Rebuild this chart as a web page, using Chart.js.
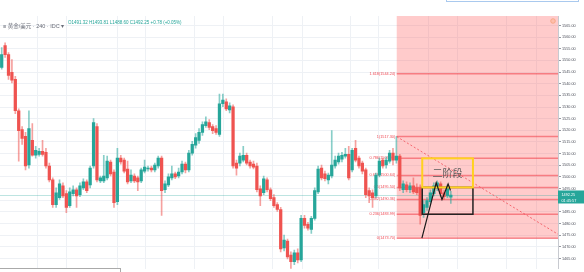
<!DOCTYPE html>
<html><head><meta charset="utf-8">
<script src="https://cdn.jsdelivr.net/npm/chart.js@4.4.1/dist/chart.umd.min.js"></script>
<style>
html,body{margin:0;padding:0;background:#fff;}
#wrap{position:relative;width:584px;height:272px;overflow:hidden;background:#fff;}
#c{position:absolute;left:0;top:0;}
#hdr{position:absolute;left:3px;top:19px;height:8px;line-height:8px;white-space:nowrap;font-family:"Liberation Sans","Noto Sans CJK SC",sans-serif;}
#sym{font-size:5.5px;color:#6a6d78;}
#ohlc{position:absolute;left:65px;top:0;font-size:4.5px;color:#26a69a;}
#tb{position:absolute;left:446px;top:-12px;width:131px;height:12px;border:1px solid #a9c9ee;}
#bx{position:absolute;left:0;top:268px;width:120px;height:20px;border:1px solid #aaa;border-left:none;}
</style></head><body>
<div id="wrap">
<canvas id="c" width="584" height="272"></canvas>
<div id="hdr"><span id="sym">≡ 黄金/美元 · 240 · IDC ▾</span><span id="ohlc">O1491.32 H1493.81 L1488.60 C1492.25 +0.78 (+0.05%)</span></div>
<div id="tb"></div>
<div id="bx"></div>
</div>
<script>
// ---- data ----
const opens = [
1547.0,1556.4,1552.5,1544.9,1541.9,1528.4,1520.3,1517.4,1505.1,1515.7,
1509.3,1509.7,1511.0,1510.6,1504.7,1498.7,1488.1,1491.1,1496.2,1492.8,
1487.7,1492.8,1494.5,1492.4,1495.3,1497.9,1496.6,1504.7,1521.6,1498.3,
1498.3,1499.6,1506.4,1502.1,1489.4,1508.1,1507.2,1503.4,1498.3,1500.4,
1499.6,1498.3,1502.5,1503.4,1503.8,1503.0,1504.7,1508.1,1494.5,1496.6,
1499.6,1501.3,1500.4,1502.1,1505.5,1503.0,1510.2,1513.6,1515.7,1519.1,
1522.0,1523.3,1521.6,1520.8,1518.2,1531.4,1532.2,1528.8,1530.1,1505.9,
1505.9,1507.2,1509.3,1506.4,1505.5,1504.7,1494.9,1493.2,1498.7,1494.5,
1491.1,1488.1,1486.0,1469.5,1472.5,1466.5,1463.6,1467.4,1464.4,1482.2,
1479.7,1477.5,1482.2,1493.6,1503.8,1501.3,1498.7,1500.4,1504.7,1506.4,
1507.6,1508.9,1509.7,1503.0,1512.3,1508.1,1505.9,1503.0,1494.1,1493.2,
1491.9,1500.8,1507.2,1505.1,1506.8,1510.2,1507.2,1508.9,1494.5,1496.6,
1494.5,1496.2,1495.3,1495.3,1484.7,1486.9,1489.4,1492.8,1495.3,1497.0,
1493.2,1491.9,1491.32];
const highs = [
1555.5,1557.6,1553.4,1550.4,1543.2,1529.2,1521.6,1519.1,1528.4,1522.9,
1513.1,1512.3,1515.7,1512.3,1505.9,1499.6,1495.3,1498.7,1497.5,1494.1,
1495.3,1496.2,1495.3,1497.5,1499.2,1498.7,1504.7,1525.0,1522.9,1500.4,
1509.3,1508.9,1507.2,1503.0,1512.3,1509.3,1508.1,1506.8,1503.0,1501.3,
1500.4,1503.8,1507.2,1504.7,1504.7,1505.9,1508.9,1508.9,1498.3,1501.3,
1504.7,1502.1,1503.8,1506.8,1506.4,1511.4,1515.3,1518.6,1520.8,1523.7,
1525.8,1524.6,1522.5,1522.0,1535.6,1535.6,1533.5,1531.8,1530.9,1507.2,
1510.2,1513.1,1510.2,1507.2,1506.8,1505.9,1496.2,1500.4,1499.6,1495.3,
1492.4,1489.0,1486.9,1475.0,1473.3,1467.8,1468.6,1469.1,1483.5,1483.5,
1480.5,1483.1,1495.3,1504.7,1505.1,1502.5,1501.7,1519.9,1508.9,1510.2,
1510.6,1512.3,1513.1,1512.3,1515.7,1508.9,1506.8,1503.8,1495.3,1494.5,
1501.7,1508.1,1508.1,1508.5,1511.4,1512.3,1517.3,1509.7,1498.3,1497.9,
1497.5,1499.6,1497.0,1496.6,1489.8,1491.1,1494.5,1497.5,1498.3,1497.9,
1494.5,1496.6,1493.81];
const lows = [
1546.2,1551.3,1541.9,1540.3,1527.1,1506.8,1514.0,1503.0,1503.8,1508.9,
1508.1,1508.9,1508.9,1503.8,1497.9,1486.9,1486.9,1490.3,1491.1,1484.7,
1486.9,1491.9,1486.9,1491.5,1494.5,1493.2,1495.3,1503.8,1497.9,1497.5,
1497.5,1498.7,1500.4,1486.9,1488.1,1505.5,1501.7,1497.0,1497.5,1497.5,
1494.1,1497.5,1501.7,1502.5,1502.1,1502.1,1503.8,1483.5,1493.2,1495.8,
1498.7,1499.2,1499.6,1501.3,1501.7,1502.1,1509.3,1512.3,1514.4,1517.8,
1521.2,1520.3,1518.6,1518.2,1517.4,1530.1,1528.4,1527.5,1503.8,1500.8,
1504.7,1506.4,1505.1,1503.8,1503.4,1493.6,1487.7,1492.4,1493.6,1489.8,
1486.9,1485.2,1467.8,1468.2,1464.8,1459.0,1462.3,1463.1,1463.6,1478.0,
1477.1,1475.8,1481.4,1492.8,1498.7,1498.3,1497.0,1499.6,1503.8,1505.5,
1506.4,1508.1,1498.7,1502.1,1506.4,1503.8,1501.3,1491.1,1489.0,1486.9,
1491.1,1500.0,1503.8,1503.8,1505.9,1505.1,1505.9,1494.1,1493.2,1493.6,
1493.2,1492.8,1492.4,1479.7,1482.6,1485.6,1488.6,1491.9,1494.1,1491.5,
1490.3,1491.1,1488.60];
const closes = [
1552.5,1552.5,1543.6,1541.5,1528.4,1519.9,1516.5,1504.7,1520.8,1509.3,
1511.4,1511.0,1509.7,1504.7,1498.7,1488.1,1493.2,1497.0,1491.9,1486.9,
1493.6,1494.5,1491.9,1496.2,1497.9,1494.1,1503.8,1523.3,1498.7,1499.6,
1500.4,1506.8,1501.3,1489.0,1508.1,1506.4,1502.5,1497.9,1500.8,1498.3,
1497.9,1503.0,1504.2,1503.8,1503.0,1505.1,1508.1,1494.1,1497.0,1500.0,
1501.3,1500.0,1502.1,1505.5,1503.0,1510.2,1514.0,1516.9,1519.1,1522.5,
1523.7,1521.2,1519.9,1519.1,1531.4,1533.0,1529.2,1530.5,1504.7,1503.8,
1508.9,1509.3,1505.9,1504.7,1504.2,1494.5,1491.9,1499.2,1494.5,1490.7,
1487.7,1486.0,1469.1,1472.9,1465.7,1463.6,1467.4,1464.4,1482.2,1479.2,
1478.0,1482.2,1494.1,1503.4,1499.6,1499.2,1500.8,1505.1,1507.2,1508.9,
1509.3,1509.7,1499.6,1511.4,1507.2,1504.7,1502.5,1492.4,1491.9,1491.1,
1500.8,1506.8,1504.7,1507.2,1510.2,1507.2,1508.9,1495.3,1497.0,1494.5,
1496.2,1493.6,1493.2,1483.5,1488.1,1489.8,1493.2,1496.2,1497.5,1492.8,
1491.5,1495.3,1492.25];
const slotCount = 164;                 // bars + empty future slots
const yTicks = [1465,1470,1475,1480,1485,1490,1495,1500,1505,1510,1515,1520,1525,1530,1535,1540,1545,1550,1555,1560,1565];
const timeGridIdx = [10.4,18.9,33.9,42.4,56.8,65.3,79.7,88.3,102.4,110.6,125.3,134.1,148.5,157.3];
const fibAnchorIdx = 116.1;
const fibPrices = [1473.70, 1517.30];  // level 0, level 1
const fibLevels = [0,0.236,0.382,0.5,0.618,0.786,1,1.618,2.618];
const trendIdx = [116.1, 163.5];
const trendPrices = [1517.3, 1475.4];
const boxIdx = [123.6, 138.5];
const yellowBox = [1495.5, 1507.97];
const blackBox = [1483.99, 1495.5];
const stageLabel = '二阶段';
const zigIdx = [123.5, 127.7, 129.4, 131.2, 131.9];
const zigPrices = [1473.7, 1497.5, 1490.3, 1497.0, 1494.2];
const lastClose = closes[closes.length-1];
const countdown = '01:45:57';

// ---- build ----
const labels = Array.from({length:slotCount},(_,i)=>String(i));
const up = opens.map((o,i)=>closes[i]>=o);
const bodyData = opens.map((o,i)=>[o,closes[i]]);
const wickData = lows.map((l,i)=>[l,highs[i]]);
const UPC='#26a69a', DNC='#ef5350';

const overlay = {
  id:'overlay',
  beforeDatasetsDraw(chart){
    const {ctx, chartArea:a, scales:{xg, y}} = chart;
    ctx.save();
    ctx.beginPath(); ctx.rect(a.left,a.top,a.right-a.left,a.bottom-a.top); ctx.clip();
    const fx = xg.getPixelForValue(fibAnchorIdx);
    const rng = fibPrices[1]-fibPrices[0];
    const top = y.getPixelForValue(fibPrices[0]+rng*Math.max(...fibLevels));
    const bot = y.getPixelForValue(fibPrices[0]);
    ctx.fillStyle='rgba(255,82,82,0.3)';
    ctx.fillRect(fx, top, a.right-fx, bot-top);
    const yl = Math.round(y.getPixelForValue(lastClose))+0.5;
    ctx.strokeStyle='rgba(38,166,154,0.3)'; ctx.lineWidth=1;
    ctx.beginPath(); ctx.moveTo(a.left,yl); ctx.lineTo(a.right,yl); ctx.stroke();
    ctx.font='3.8px "Liberation Sans"'; ctx.textAlign='right'; ctx.textBaseline='middle';
    fibLevels.forEach(lv=>{
      const v = fibPrices[0]+rng*lv;
      const yy = y.getPixelForValue(v);
      ctx.strokeStyle='rgba(242,70,80,0.6)'; ctx.lineWidth=1.5;
      ctx.beginPath(); ctx.moveTo(fx,yy); ctx.lineTo(a.right,yy); ctx.stroke();
      ctx.fillStyle='#ef4a55';
      ctx.fillText(lv+'('+v.toFixed(2)+')', fx-1.5, yy);
    });
    ctx.restore();
  },
  afterDatasetsDraw(chart){
    const {ctx, chartArea:a, scales:{xg, y}} = chart;
    ctx.save();
    ctx.beginPath(); ctx.rect(a.left,a.top,a.right-a.left,a.bottom-a.top); ctx.clip();
    ctx.strokeStyle='rgba(242,70,80,0.75)'; ctx.lineWidth=1; ctx.setLineDash([2,2]);
    ctx.beginPath();
    ctx.moveTo(xg.getPixelForValue(trendIdx[0]), y.getPixelForValue(trendPrices[0]));
    ctx.lineTo(xg.getPixelForValue(trendIdx[1]), y.getPixelForValue(trendPrices[1]));
    ctx.stroke(); ctx.setLineDash([]);
    const bx0 = xg.getPixelForValue(boxIdx[0]), bx1 = xg.getPixelForValue(boxIdx[1]);
    ctx.strokeStyle='#222'; ctx.lineWidth=1.5;
    let t=y.getPixelForValue(blackBox[1]), b=y.getPixelForValue(blackBox[0]);
    ctx.strokeRect(bx0,t,bx1-bx0,b-t);
    ctx.strokeStyle='#ffd21f'; ctx.lineWidth=2;
    t=y.getPixelForValue(yellowBox[1]); b=y.getPixelForValue(yellowBox[0]);
    ctx.strokeRect(bx0,t,bx1-bx0,b-t);
    ctx.fillStyle='#5a5a5a'; ctx.font='10px "Noto Sans CJK SC"'; ctx.textAlign='center'; ctx.textBaseline='middle';
    ctx.fillText(stageLabel,(bx0+bx1)/2,(t+b)/2);
    ctx.strokeStyle='#1a1a1a'; ctx.lineWidth=1.2; ctx.beginPath();
    zigIdx.forEach((ix,k)=>{const px=xg.getPixelForValue(ix), py=y.getPixelForValue(zigPrices[k]); k?ctx.lineTo(px,py):ctx.moveTo(px,py);});
    ctx.stroke();
    ctx.strokeStyle='#f5a27a'; ctx.fillStyle='rgba(255,180,150,0.6)'; ctx.lineWidth=0.8;
    ctx.beginPath(); ctx.arc(a.right-5, a.top+5, 2.3, 0, Math.PI*2); ctx.fill(); ctx.stroke();
    ctx.restore();
  },
  afterDraw(chart){
    const {ctx, chartArea:a, scales:{y}} = chart;
    const yl = y.getPixelForValue(lastClose);
    ctx.save();
    ctx.fillStyle=UPC; ctx.fillRect(a.right, yl-4.5, chart.width-a.right, 13);
    ctx.fillStyle='#fff'; ctx.font='3.8px "Liberation Sans"'; ctx.textAlign='left'; ctx.textBaseline='middle';
    ctx.fillText(lastClose.toFixed(2), a.right+3.5, yl);
    ctx.fillText(countdown, a.right+3.5, yl+5.5);
    ctx.restore();
  }
};

new Chart(document.getElementById('c'), {
  type:'bar',
  data:{ labels, datasets:[
    {data:bodyData, backgroundColor:up.map(u=>u?UPC:DNC), barThickness:2.6, grouped:false, order:0, borderWidth:0},
    {data:wickData, backgroundColor:up.map(u=>u?'rgba(38,166,154,0.55)':'rgba(239,83,80,0.55)'), barThickness:1, grouped:false, order:1, borderWidth:0}
  ]},
  options:{
    responsive:false, animation:false, devicePixelRatio:1,
    layout:{padding:{top:16,left:0,right:0,bottom:0}},
    plugins:{legend:{display:false}, tooltip:{enabled:false}},
    scales:{
      x:{type:'category', display:false, offset:true, grid:{display:false}},
      xg:{type:'linear', position:'bottom', min:-0.5, max:slotCount-0.5, offset:false,
          ticks:{display:false}, grid:{color:'#eef1f5', drawTicks:false, offset:false}, border:{display:false},
          afterBuildTicks(s){ s.ticks = timeGridIdx.map(v=>({value:v})); },
          afterFit(s){ s.height=0; }},
      y:{position:'right', min:1460.6, max:1569.07,
         ticks:{font:{size:3.8,family:'Liberation Sans'}, color:'#50535e', padding:1, callback:v=>Number(v).toFixed(2)},
         afterBuildTicks(s){ s.ticks = yTicks.map(v=>({value:v})); },
         afterFit(s){ s.width=26; },
         grid:{color:'#eef1f5', tickLength:3, tickColor:'#9598a1'},
         border:{color:'#c8cad0'}}
    }
  },
  plugins:[overlay]
});
</script>
</body></html>
